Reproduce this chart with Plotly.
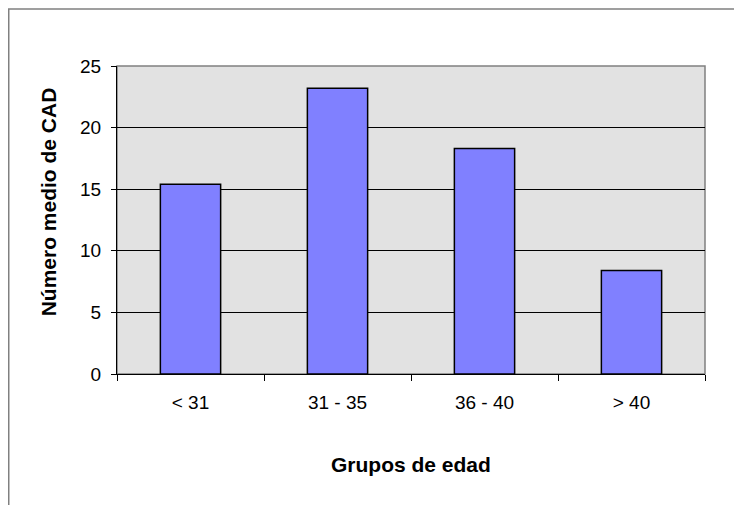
import plotly.graph_objects as go

grupos = ['< 31', '31 - 35', '36 - 40', '> 40']
cad_medio = [15.4, 23.2, 18.3, 8.4]
y_ticks = [0, 5, 10, 15, 20, 25]

fig = go.Figure(go.Bar(x=grupos, y=cad_medio, width=0.41,
                       marker=dict(color='#8080FF', line=dict(color='black', width=1.5))))

# the page body adds 8px margin, so the figure is a bit smaller and shifted
fig.update_layout(
    width=734, height=497,
    margin=dict(l=109, r=37, t=58, b=131),
    paper_bgcolor='white', plot_bgcolor='#E2E2E2',
    showlegend=False,
    font=dict(family='Liberation Sans, Arial', size=19, color='black'),
)
fig.update_yaxes(range=[0, 25], tickvals=y_ticks, showgrid=True, gridcolor='black', gridwidth=1,
                 showline=True, linecolor='black', linewidth=1, ticks='outside', ticklen=5,
                 tickcolor='black', zeroline=False, ticklabelstandoff=6)
fig.update_xaxes(showline=True, linecolor='black', linewidth=1, ticks='outside', ticklen=6,
                 tickcolor='black', tickson='boundaries', ticklabelstandoff=11)

# plot frame on top/right and outer chart border
fig.add_shape(type='rect', xref='paper', yref='paper', x0=0, x1=1, y0=0, y1=1,
              line=dict(color='#808080', width=1.5), layer='below')
fig.add_shape(type='rect', xref='paper', yref='paper', x0=-0.1841, x1=1.2, y0=-0.6, y1=1.185,
              line=dict(color='#808080', width=1.5))

fig.add_annotation(text='<b>Grupos de edad</b>', xref='paper', yref='paper', x=0.5, y=-0.295,
                   showarrow=False, font=dict(size=21), xanchor='center', yanchor='middle')
fig.add_annotation(text='<b>Número medio de CAD</b>', xref='paper', yref='paper', x=-0.117, y=0.558,
                   showarrow=False, font=dict(size=21), textangle=-90, xanchor='center', yanchor='middle')

fig.write_html('out.html')
